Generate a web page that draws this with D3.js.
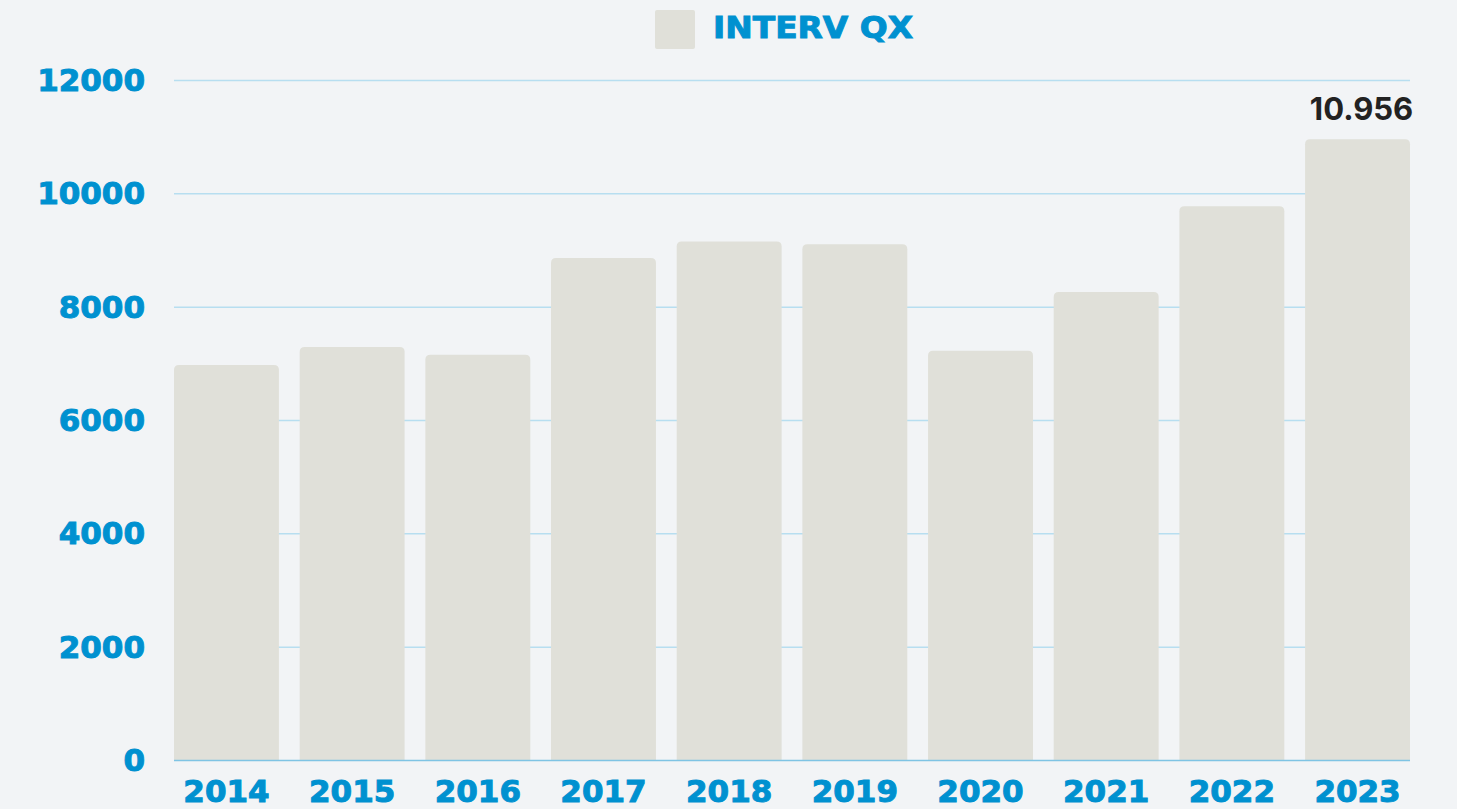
<!DOCTYPE html>
<html>
<head>
<meta charset="utf-8">
<script src="https://cdn.jsdelivr.net/npm/d3@7"></script>
<style>
  html, body { margin: 0; padding: 0; background: #f2f4f6; }
  svg { display: block; }
</style>
</head>
<body>
<svg id="chart" width="1457" height="809"></svg>
<script>
const categories = ["2014","2015","2016","2017","2018","2019","2020","2021","2022","2023"];
const values = [6970, 7290, 7150, 8860, 9150, 9100, 7220, 8260, 9770, 10956];
const yTicks = [0, 2000, 4000, 6000, 8000, 10000, 12000];
const seriesName = "INTERV QX";
const labelIndex = [9];
const labelText = ["10.956"];

const W = 1457, H = 809;
const margin = { left: 174, right: 47, top: 80, bottom: 49 };
const svg = d3.select("#chart");
svg.append("rect").attr("width", W).attr("height", H).attr("fill", "#f2f4f6");

const x = d3.scaleBand().domain(categories)
  .range([margin.left, W - margin.right]).paddingInner(0.165).paddingOuter(0.0);
const y = d3.scaleLinear().domain([0, 12000]).range([H - margin.bottom, margin.top]);

const blue = "#0091d0";
const font = "'DejaVu Sans', sans-serif";

// gridlines
svg.append("g").selectAll("line").data(yTicks.filter(d => d !== 0)).join("line")
  .attr("x1", margin.left).attr("x2", W - margin.right)
  .attr("y1", d => y(d) + 0.5).attr("y2", d => y(d) + 0.5)
  .attr("stroke", "#b7def0").attr("stroke-width", 1.5);

// bars with rounded top corners
const r = 5;
function barPath(d, i) {
  const x0 = x(categories[i]), w = x.bandwidth();
  const y0 = y(d), yb = y(0);
  return `M${x0},${yb}V${y0 + r}Q${x0},${y0} ${x0 + r},${y0}H${x0 + w - r}Q${x0 + w},${y0} ${x0 + w},${y0 + r}V${yb}Z`;
}
svg.append("g").selectAll("path").data(values).join("path")
  .attr("d", (d, i) => barPath(d, i))
  .attr("fill", "#e0e0d9");

// baseline
svg.append("line")
  .attr("x1", margin.left).attr("x2", W - margin.right)
  .attr("y1", y(0) + 0.5).attr("y2", y(0) + 0.5)
  .attr("stroke", "#7fc4e4").attr("stroke-width", 1.5);

// y axis labels
svg.append("g").selectAll("text").data(yTicks).join("text")
  .attr("x", 145).attr("y", d => y(d))
  .attr("dy", "0.36em")
  .attr("text-anchor", "end")
  .attr("font-family", font).attr("font-weight", "bold").attr("font-size", 31)
  .attr("fill", blue).attr("stroke", blue).attr("stroke-width", 1)
  .text(d => d);

// x axis labels
svg.append("g").selectAll("text").data(categories).join("text")
  .attr("x", d => x(d) + x.bandwidth() / 2).attr("y", 802)
  .attr("text-anchor", "middle")
  .attr("font-family", font).attr("font-weight", "bold").attr("font-size", 31)
  .attr("fill", blue).attr("stroke", blue).attr("stroke-width", 1)
  .text(d => d);

// value label
svg.append("g").selectAll("text").data(labelIndex).join("text")
  .attr("x", (d) => x(categories[d]) + x.bandwidth() / 2 + 4)
  .attr("y", (d) => y(values[d]) - 19)
  .attr("text-anchor", "middle")
  .attr("font-family", "Inter, 'Open Sans', sans-serif").attr("font-weight", 700).attr("font-size", 31)
  .attr("fill", "#222222")
  .text((d, i) => labelText[i]);

// legend
const lg = svg.append("g");
lg.append("rect").attr("x", 655).attr("y", 10).attr("width", 40).attr("height", 39)
  .attr("rx", 2).attr("fill", "#e0e0d9");
lg.append("text").attr("x", 713).attr("y", 38)
  .attr("font-family", font).attr("font-weight", "bold").attr("font-size", 31)
  .attr("textLength", 200).attr("lengthAdjust", "spacingAndGlyphs")
  .attr("fill", blue).attr("stroke", blue).attr("stroke-width", 1)
  .text(seriesName);
</script>
</body>
</html>
